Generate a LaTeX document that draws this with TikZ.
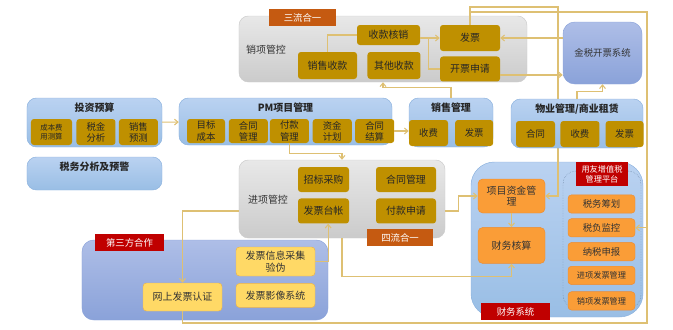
\documentclass[tikz,border=0pt]{standalone}
\usepackage{fontspec}
\setmainfont{Noto Sans CJK SC}
\usetikzlibrary{arrows.meta, positioning}
\definecolor{goldfill}{RGB}{191,144,0}
\definecolor{bluetop}{RGB}{186,210,241}
\definecolor{bluebot}{RGB}{153,190,229}
\definecolor{blueline}{RGB}{140,178,222}
\definecolor{purptop}{RGB}{174,190,231}
\definecolor{purpbot}{RGB}{138,162,217}
\definecolor{graytop}{RGB}{232,232,232}
\definecolor{graybot}{RGB}{203,203,203}
\definecolor{tabred}{RGB}{192,0,0}
\definecolor{taborange}{RGB}{197,90,17}
\definecolor{orangefill}{RGB}{250,157,55}
\definecolor{orangeline}{RGB}{237,140,50}
\definecolor{yellowfill}{RGB}{255,217,102}
\definecolor{yellowline}{RGB}{240,180,70}
\definecolor{linkc}{RGB}{222,192,115}

\begin{document}
\begin{tikzpicture}[
    x=0.03cm, y=-0.03cm,
    >={Straight Barb[length=3pt,width=5pt]},
    panel/.style={rectangle, rounded corners=8pt, inner sep=0pt},
    graypanel/.style={panel, top color=graytop, bottom color=graybot, draw=gray!40},
    bluepanel/.style={panel, top color=bluetop, bottom color=bluebot, draw=blueline},
    purppanel/.style={panel, top color=purptop, bottom color=purpbot, draw=purpbot},
    paneltitle/.style={inner sep=0pt, font=\bfseries\fontsize{8.5}{10}\selectfont, text=black!85},
    sidelabel/.style={inner sep=0pt, font=\fontsize{8.5}{10}\selectfont, text=black!80},
    goldbx/.style={
        rectangle, rounded corners=2.5pt, fill=goldfill, inner sep=1pt,
        align=center, text=black!85, font=\fontsize{8.5}{10}\selectfont
    },
    goldsm/.style={goldbx, font=\fontsize{8}{9.5}\selectfont},
    goldxs/.style={goldbx, font=\fontsize{6.3}{7.6}\selectfont},
    pmsub/.style={goldsm, minimum width=1.17cm, minimum height=0.72cm},
    orbx/.style={
        rectangle, rounded corners=4pt, fill=orangefill, draw=orangeline, inner sep=1pt,
        align=center, text=black!80, font=\fontsize{8.5}{10}\selectfont
    },
    yylist/.style={orbx, rounded corners=3pt, minimum width=2.01cm, minimum height=0.55cm,
        font=\fontsize{8}{9.5}\selectfont},
    ylbx/.style={
        rectangle, rounded corners=3pt, fill=yellowfill, draw=yellowline, inner sep=1pt,
        align=center, text=black!80, font=\fontsize{8.5}{10}\selectfont,
        minimum width=2.37cm
    },
    tagbox/.style={rectangle, inner sep=0pt, text=white, align=center,
        font=\fontsize{8}{9.5}\selectfont},
    conn/.style={draw=linkc, line width=0.9pt}
]
\useasboundingbox (0,0) rectangle (673,329);

% Output side
\node[graypanel, minimum width=8.64cm, minimum height=1.98cm] (xxgk) at (383,49) {};
\node[tagbox, fill=taborange, minimum width=2.01cm, minimum height=0.51cm] (sanliu) at (302.5,17.5) {三流合一};
\node[sidelabel] (xxlabel) at (266,50) {销项管控};
\node[goldbx, minimum width=1.89cm, minimum height=0.6cm] (skhx) at (388.5,35) {收款核销};
\node[goldbx, minimum width=1.77cm, minimum height=0.81cm] (xssk) at (327.5,65.5) {销售收款};
\node[goldbx, right=0.3cm of xssk, minimum width=1.59cm, minimum height=0.81cm] (qtsk) {其他收款};
\node[goldbx, minimum width=1.8cm, minimum height=0.78cm] (fp1) at (470,38) {发票};
\node[goldbx, below=0.15cm of fp1, minimum width=1.8cm, minimum height=0.75cm] (kpsq) {开票申请};

\node[purppanel, rounded corners=10pt, minimum width=2.37cm, minimum height=1.86cm,
    font=\fontsize{8}{9.5}\selectfont, text=black!80] (jskp) at (602.5,53) {金税开票系统};

% Budget
\node[bluepanel, minimum width=4.05cm, minimum height=1.47cm] (tzys) at (94.5,122.5) {};
\node[paneltitle, below=0.15cm of tzys.north] (tzystitle) {投资预算};
\node[goldxs, minimum width=1.23cm, minimum height=0.78cm] (cbfy) at (51.5,132) {成本费\\用测算};
\node[goldsm, right=0.12cm of cbfy, minimum width=1.17cm, minimum height=0.78cm] (sjfx) {税金\\分析};
\node[goldsm, right=0.09cm of sjfx, minimum width=1.17cm, minimum height=0.78cm] (xsyc) {销售\\预测};

\node[bluepanel, minimum width=4.05cm, minimum height=0.99cm] (swfx) at (94.5,173.5) {};
\node[paneltitle, below=0.15cm of swfx.north] (swfxtitle) {税务分析及预警};

% PM
\node[bluepanel, minimum width=6.39cm, minimum height=1.41cm] (pm) at (285.5,121.5) {};
\node[paneltitle, below=0.15cm of pm.north] (pmtitle) {PM项目管理};
\node[pmsub, minimum width=1.14cm] (mbcb) at (206,131) {目标\\成本};
\node[pmsub, right=0.1cm of mbcb] (htgl) {合同\\管理};
\node[pmsub, right=0.05cm of htgl] (fkgl) {付款\\管理};
\node[pmsub, right=0.1cm of fkgl] (zjjh) {资金\\计划};
\node[pmsub, right=0.09cm of zjjh] (htjs) {合同\\结算};

% Sales
\node[bluepanel, minimum width=2.52cm, minimum height=1.47cm] (xsgl) at (451,122.5) {};
\node[paneltitle, below=0.15cm of xsgl.north] (xsgltitle) {销售管理};
\node[goldsm, minimum width=1.17cm, minimum height=0.78cm] (sf1) at (428.5,133) {收费};
\node[goldsm, right=0.2cm of sf1, minimum width=1.14cm, minimum height=0.78cm] (fp2) {发票};

% Input side
\node[graypanel, minimum width=6.18cm, minimum height=2.34cm] (jxgk) at (342,199) {};
\node[sidelabel] (jxlabel) at (268,200) {进项管控};
\node[goldbx, minimum width=1.53cm, minimum height=0.75cm] (zbcg) at (323.5,179.5) {招标采购};
\node[goldbx, below=0.18cm of zbcg, minimum width=1.53cm, minimum height=0.75cm] (fptz) {发票台帐};
\node[goldbx, minimum width=1.8cm, minimum height=0.75cm] (htgl2) at (406,179.5) {合同管理};
\node[goldbx, below=0.18cm of htgl2, minimum width=1.8cm, minimum height=0.75cm] (fksq) {付款申请};
\node[tagbox, fill=taborange, minimum width=1.98cm, minimum height=0.51cm] (siliu) at (400,237.5) {四流合一};

% Finance
\node[bluepanel, rounded corners=20pt, minimum width=5.16cm, minimum height=4.65cm] (cwxt) at (557,239.5) {};
\node[panel, draw=blueline!70!black, densely dotted, rounded corners=11pt,
    minimum width=2.34cm, minimum height=4.11cm] (yypt) at (602,239.5) {};
\node[tagbox, fill=tabred, font=\fontsize{7}{8.5}\selectfont,
    minimum width=1.56cm, minimum height=0.72cm] (yytag) at (602,174) {用友增值税\\管理平台};
\node[orbx, minimum width=2.01cm, minimum height=1.02cm] (xmzj) at (511.5,196) {项目资金管\\理};
\node[orbx, below=0.42cm of xmzj, minimum width=2.01cm, minimum height=1.08cm] (cwhs) {财务核算};
\node[yylist] (swch) at (601.5,204) {税务筹划};
\node[yylist, below=0.15cm of swch] (sfjk) {税负监控};
\node[yylist, below=0.15cm of sfjk] (nssb) {纳税申报};
\node[yylist, below=0.15cm of nssb, font=\fontsize{7}{8.5}\selectfont] (jxfp) {进项发票管理};
\node[yylist, below=0.2cm of jxfp, font=\fontsize{7}{8.5}\selectfont] (xxfp) {销项发票管理};
\node[tagbox, fill=tabred, minimum width=2.07cm, minimum height=0.51cm] (cwtag) at (515.5,311.5) {财务系统};

% Bus lines round the right edge
\coordinate (bus1) at (558,7);
\coordinate (bus2) at (647,12);
\coordinate (bus3) at (647,323);
\draw[conn, ->] (fp1.north) |- (bus1) |- (xmzj.east);

% Property
\node[bluepanel, minimum width=3.96cm, minimum height=1.47cm] (wygl) at (577,123.5) {};
\node[paneltitle, below=0.15cm of wygl.north] (wygltitle) {物业管理/商业租赁};
\node[goldsm, minimum width=1.17cm, minimum height=0.78cm] (ht2) at (535.5,134) {合同};
\node[goldsm, right=0.15cm of ht2, minimum width=1.17cm, minimum height=0.78cm] (sf2) {收费};
\node[goldsm, right=0.17cm of sf2, minimum width=1.14cm, minimum height=0.78cm] (fp3) {发票};

% Third party
\node[purppanel, rounded corners=10pt, minimum width=7.38cm, minimum height=2.4cm] (dsf) at (205,280) {};
\node[tagbox, fill=tabred, minimum width=2.07cm, minimum height=0.51cm] (dsftag) at (129.5,242.5) {第三方合作};
\node[ylbx, minimum height=0.84cm] (wsrz) at (182.5,297) {网上发票认证};
\node[ylbx, minimum height=0.87cm] (fpxx) at (275.5,261.5) {发票信息采集\\验伪};
\node[ylbx, below=0.21cm of fpxx, minimum height=0.72cm] (fpyx) {发票影像系统};

% Arrows
\draw[conn, ->] (tzys) -- (pm);
\draw[conn, ->] (htjs.east) -- (htjs.east -| sf1.west);
\draw[conn, ->] (xsgl.north) -- ++(0,-10) -| (xxgk.south);
\draw[conn] (xssk.north) |- (skhx.west);
\draw[conn, ->] (skhx.east |- fp1.west) -- (fp1.west);
\draw[conn] (skhx.east |- fp1.west) ++(8,0) |- (kpsq.west);
\draw[conn, ->] (fp1.east -| jskp.west) -- (fp1.east);
\draw[conn, ->] ([yshift=-0.18cm]kpsq.east) -- ([yshift=-0.18cm]kpsq.east -| jskp.west);
\draw[conn, ->] (wygl.north) -- ++(0,-7) -| (jskp.south);
\draw[conn, ->] (fkgl.south) -- ++(0,10) -| (jxgk.north);
\draw[conn, ->] (fksq.east -| jxgk.east) -- ++(13,0) |- (xmzj.west);
\draw[conn, ->] (xmzj) -- (cwhs);
\draw[conn, ->] (jxgk.south) -- ++(0,38) -| (cwhs.south);
\draw[conn, ->] (fpxx.east) -| ([xshift=0.14cm]fptz.south);
\draw[conn, ->] (fptz.west -| jxgk.west) -| (wsrz.north);
\draw[conn] (fp1.north) |- (bus2) -- (bus3) -| (wsrz.south);
\draw[conn, ->] (bus2 |- sfjk.east) -- (sfjk.east);

\end{tikzpicture}
\end{document}
